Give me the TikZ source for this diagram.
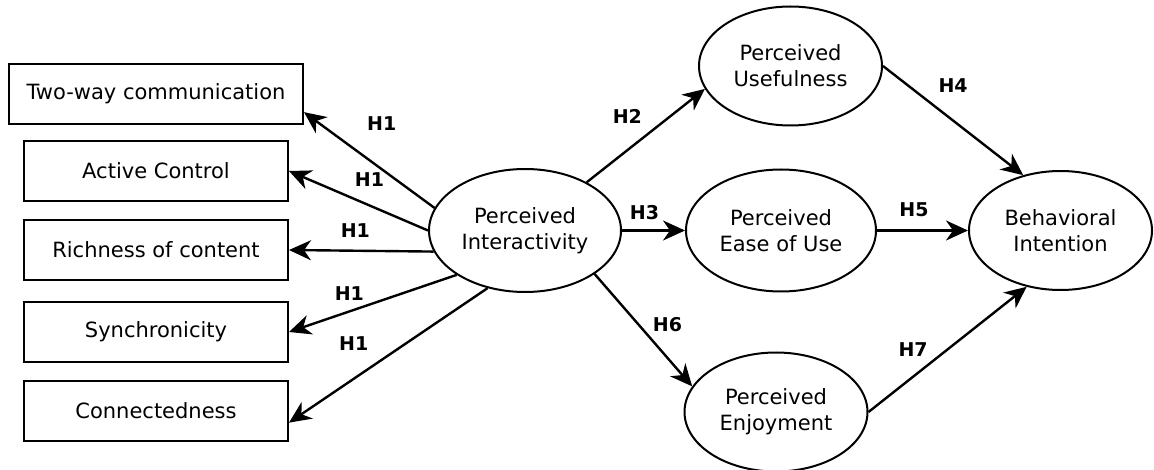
\documentclass[tikz,border=0pt]{standalone}
\usepackage{fontspec}
\setmainfont{DejaVu Sans}
\usetikzlibrary{arrows.meta,positioning,shapes.geometric}

\begin{document}
\begin{tikzpicture}[x=1pt,y=1pt,>={Stealth[length=22pt,width=20pt,inset=7pt]}]
	\tikzstyle{block} = [draw, rectangle, line width=2pt, minimum height=60pt, minimum width=264pt, inner sep=0pt, font=\fontsize{21}{26}\selectfont]
	\tikzstyle{construct} = [draw, ellipse, line width=2pt, minimum width=183pt, minimum height=119pt, inner sep=0pt, align=center, font=\fontsize{21}{26}\selectfont]
	\tikzstyle{hyp} = [font=\bfseries\fontsize{19}{22}\selectfont, inner sep=0pt]
	\tikzstyle{link} = [->, line width=2.4pt]

	\useasboundingbox (0,0) rectangle (1154,-470);

	% dimensions of interactivity
	\node [block, minimum width=294pt] (twoway) at (156,-94) {Two-way communication};
	\node [block, below = 15pt of twoway] (active) {Active Control};
	\node [block, below = 17pt of active] (rich) {Richness of content};
	\node [block, below = 20pt of rich] (sync) {Synchronicity};
	\node [block, below = 17pt of sync] (connect) {Connectedness};

	% constructs
	\node [construct, minimum width=192pt, minimum height=123pt] (inter) at (525,-230.5) {Perceived\\Interactivity};
	\node [construct, minimum width=190pt, minimum height=122pt, right = 63pt of inter] (ease) {Perceived\\Ease of Use};
	\node [construct, above = 42pt of ease, xshift=9.5pt] (useful) {Perceived\\Usefulness};
	\node [construct, below = 59pt of ease, xshift=-5pt] (enjoy) {Perceived\\Enjoyment};
	\node [construct, right = 91pt of ease] (intent) {Behavioral\\Intention};

	\draw [link] (inter.166) --node[hyp, xshift=12.5pt, yshift=36.5pt]{H1} (twoway.-7);
	\draw [link] (inter.west) --node[hyp, xshift=11pt, yshift=21.5pt]{H1} (active.east);
	\draw [link] (inter.193) --node[hyp, xshift=-6pt, yshift=20pt]{H1} (rich.east);
	\draw [link] (inter.213) --node[hyp, xshift=-23.5pt, yshift=10pt]{H1} (sync.east);
	\draw [link] (inter.237) --node[hyp, xshift=-34.5pt, yshift=11.5pt]{H1} (connect.-5);
	\draw [link] (inter.38) --node[hyp, xshift=-18.5pt, yshift=19pt]{H2} (useful.195);
	\draw [link] (inter.east) --node[hyp, xshift=-9pt, yshift=18pt]{H3} (ease.west);
	\draw [link] (inter.-32) --node[hyp, xshift=24pt, yshift=6pt]{H6} (enjoy.163);
	\draw [link] (useful.east) --node[hyp, yshift=35pt]{H4} (intent.124);
	\draw [link] (ease.east) --node[hyp, xshift=-8.5pt, yshift=21pt]{H5} (intent.west);
	\draw [link] (enjoy.east) --node[hyp, xshift=-34.5pt]{H7} (intent.239);

\end{tikzpicture}
\end{document}
